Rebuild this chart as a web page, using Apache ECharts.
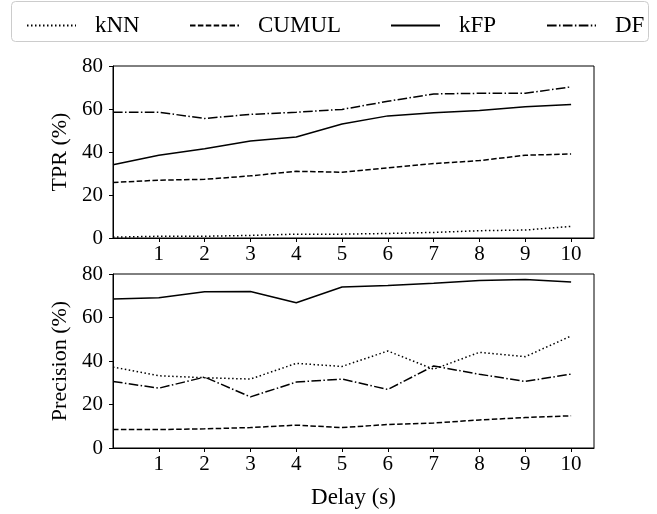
<!DOCTYPE html>
<html>
<head>
<meta charset="utf-8">
<script src="https://cdn.jsdelivr.net/npm/echarts@6/dist/echarts.min.js"></script>
<style>
html,body{margin:0;padding:0;background:#fff;}
#chart{width:657px;height:514px;}
</style>
</head>
<body>
<div id="chart"></div>
<script>
const delays = [0, 1, 2, 3, 4, 5, 6, 7, 8, 9, 10];
const xTickLabels = [1, 2, 3, 4, 5, 6, 7, 8, 9, 10];
const yTickLabels = [0, 20, 40, 60, 80];
const seriesNames = ['kNN', 'CUMUL', 'kFP', 'DF'];

const tprKNN   = [0.4, 0.8, 0.8, 1.2, 1.8, 1.8, 2.1, 2.6, 3.4, 3.7, 5.4];
const tprCUMUL = [25.8, 26.9, 27.3, 28.9, 31.0, 30.6, 32.6, 34.6, 36.0, 38.5, 39.1];
const tprKFP   = [34.1, 38.5, 41.5, 45.1, 47.0, 53.0, 56.8, 58.2, 59.3, 61.0, 62.1];
const tprDF    = [58.5, 58.5, 55.6, 57.5, 58.5, 59.8, 63.6, 67.0, 67.3, 67.3, 70.3];

const precKNN   = [37.2, 33.2, 32.3, 31.7, 38.9, 37.5, 44.6, 36.2, 44.0, 42.0, 51.5];
const precCUMUL = [8.5, 8.5, 8.8, 9.4, 10.5, 9.4, 10.8, 11.5, 12.9, 14.0, 14.8];
const precKFP   = [68.5, 69.1, 71.8, 72.0, 66.8, 74.0, 74.7, 75.8, 77.0, 77.5, 76.3];
const precDF    = [30.6, 27.5, 32.6, 23.5, 30.3, 31.7, 26.9, 37.7, 33.9, 30.6, 34.0];

const FONT = '"Liberation Serif", "DejaVu Serif", serif';
const dashes = {
  kNN: [1.5, 2.5],
  CUMUL: [5.5, 2.4],
  kFP: 'solid',
  DF: [9.6, 2.4, 1.5, 2.4]
};

function pairs(vals) { return delays.map((d, i) => [d, vals[i]]); }

function mkSeries(name, vals, idx) {
  return {
    name: name,
    type: 'line',
    xAxisIndex: idx, yAxisIndex: idx,
    data: pairs(vals),
    symbol: 'none',
    lineStyle: { color: '#000', width: 1.5, type: dashes[name] },
    itemStyle: { color: '#000' },
    animation: false,
    silent: true
  };
}

function xAx(idx, showName) {
  return {
    type: 'value', gridIndex: idx, min: 0, max: 10.5, interval: 1,
    splitLine: { show: false },
    axisLine: { lineStyle: { color: '#000', width: 1 } },
    axisTick: { length: 4, lineStyle: { color: '#000' }, customValues: xTickLabels },
    axisLabel: { customValues: xTickLabels, color: '#000', fontFamily: FONT, fontSize: 21, margin: 6 },
    name: showName ? 'Delay (s)' : '',
    nameLocation: 'middle', nameGap: 38,
    nameTextStyle: { color: '#000', fontFamily: FONT, fontSize: 23 }
  };
}
function yAx(idx, name) {
  return {
    type: 'value', gridIndex: idx, min: 0, max: 80, interval: 20,
    splitLine: { show: false },
    axisLine: { show: true, lineStyle: { color: '#000', width: 1 } },
    axisTick: { show: true, length: 4, lineStyle: { color: '#000' }, customValues: yTickLabels },
    axisLabel: { customValues: yTickLabels, color: '#000', fontFamily: FONT, fontSize: 21, margin: 10 },
    name: name, nameLocation: 'middle', nameGap: 40,
    nameTextStyle: { color: '#000', fontFamily: FONT, fontSize: 22 }
  };
}

const legendLeft = [21, 184, 385, 541];
const legends = seriesNames.map((n, i) => ({
  data: [n], left: legendLeft[i], top: 9,
  itemWidth: 49, itemHeight: 14, itemGap: 0,
  itemStyle: { opacity: 0 },
  textStyle: { color: '#000', fontFamily: FONT, fontSize: 23, padding: [0, 0, 0, 14] },
  selectedMode: false
}));

const chart = echarts.init(document.getElementById('chart'), null, { renderer: 'canvas' });
chart.setOption({
  backgroundColor: '#fff',
  animation: false,
  graphic: [{
    type: 'rect', left: 11, top: 1, z: -1,
    shape: { width: 637, height: 40, r: 4 },
    style: { fill: '#fff', stroke: '#cccccc', lineWidth: 1 }
  }],
  legend: legends,
  grid: [
    { left: 113, top: 66, width: 481, height: 172, show: true, borderColor: '#000', borderWidth: 1, backgroundColor: 'transparent' },
    { left: 113, top: 274, width: 481, height: 174, show: true, borderColor: '#000', borderWidth: 1, backgroundColor: 'transparent' }
  ],
  xAxis: [xAx(0, false), xAx(1, true)],
  yAxis: [yAx(0, 'TPR (%)'), yAx(1, 'Precision (%)')],
  series: [
    mkSeries('kNN', tprKNN, 0), mkSeries('CUMUL', tprCUMUL, 0), mkSeries('kFP', tprKFP, 0), mkSeries('DF', tprDF, 0),
    mkSeries('kNN', precKNN, 1), mkSeries('CUMUL', precCUMUL, 1), mkSeries('kFP', precKFP, 1), mkSeries('DF', precDF, 1)
  ]
});
</script>
</body>
</html>
